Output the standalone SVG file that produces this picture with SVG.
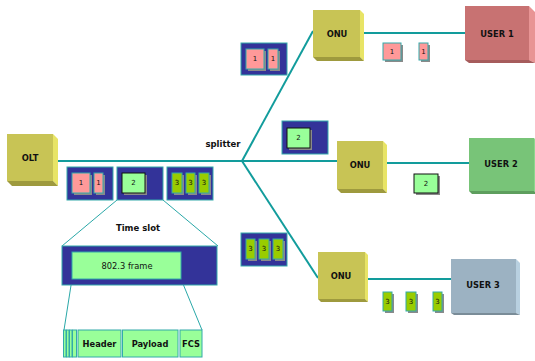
<svg xmlns="http://www.w3.org/2000/svg" width="535" height="361" viewBox="0 0 535 361">
<style>
.t{font-family:"DejaVu Sans",Verdana,sans-serif;font-weight:bold;font-size:8.3px;fill:#111;text-anchor:middle;dominant-baseline:central}
.n{font-family:"DejaVu Sans",Verdana,sans-serif;font-size:7px;fill:#111;text-anchor:middle;dominant-baseline:central}
.r{font-family:"DejaVu Sans",Verdana,sans-serif;font-size:8.3px;fill:#111;text-anchor:middle;dominant-baseline:central}
.ln{stroke:#129c9c;stroke-width:2;fill:none}
.th{stroke:#2aa8a8;stroke-width:1;fill:none}
.grp{fill:#333399;stroke:#33aaaa;stroke-width:1}
.pk{fill:#ff9999;stroke:#33aaaa;stroke-width:1}
.gr{fill:#99ff99;stroke:#111;stroke-width:1}
.yg{fill:#99cc00;stroke:#33aaaa;stroke-width:1}
.sh{fill:#8a8a8a}
.fd{fill:#99ff99;stroke:#33aaaa;stroke-width:1}
.yf{fill:#c8c455}.ys{fill:#e8e466}.yb{fill:#9e9a3e}
</style>
<g id="connectors">
<line class="ln" x1="58" y1="161" x2="337" y2="161"/>
<line class="ln" x1="242" y1="161" x2="313" y2="31"/>
<line class="ln" x1="242" y1="161" x2="318" y2="278"/>
<line class="ln" x1="364" y1="33" x2="465" y2="33"/>
<line class="ln" x1="387" y1="163" x2="469" y2="163"/>
<line class="ln" x1="368" y1="279" x2="451" y2="279"/>
<line class="th" x1="117" y1="200" x2="62" y2="246"/>
<line class="th" x1="163" y1="200" x2="218" y2="246"/>
<line class="th" x1="72" y1="279" x2="64" y2="330"/>
<line class="th" x1="181" y1="279" x2="202" y2="330"/>
</g>
<g id="olt">
<polygon class="ys" points="53,134 58,139 58,186 53,181"/>
<polygon class="yb" points="7,181 53,181 58,186 12,186"/>
<rect class="yf" x="7" y="134" width="46" height="47"/>
<text class="t" x="30" y="158">OLT</text>
</g>
<g id="onu1">
<polygon class="ys" points="360,10 364,14 364,61 360,57"/>
<polygon class="yb" points="313,57 360,57 364,61 317,61"/>
<rect class="yf" x="313" y="10" width="47" height="47"/>
<text class="t" x="337" y="34">ONU</text>
</g>
<g id="onu2">
<polygon class="ys" points="383,141 387,145 387,193 383,189"/>
<polygon class="yb" points="337,189 383,189 387,193 341,193"/>
<rect class="yf" x="337" y="141" width="46" height="48"/>
<text class="t" x="360" y="165">ONU</text>
</g>
<g id="onu3">
<polygon class="ys" points="365,252 368,255 368,302 365,299"/>
<polygon class="yb" points="318,299 365,299 368,302 321,302"/>
<rect class="yf" x="318" y="252" width="47" height="47"/>
<text class="t" x="341" y="276">ONU</text>
</g>
<g id="user1">
<polygon fill="#e89494" points="529,6 535,12 535,63 529,60"/>
<polygon fill="#a65c5c" points="465,60 529,60 535,63 469,63"/>
<rect fill="#c87272" x="465" y="6" width="64" height="54"/>
<text class="t" x="497" y="34">USER 1</text>
</g>
<g id="user2">
<polygon fill="#8ed68e" points="534,138 538,142 538,194 534,191"/>
<polygon fill="#5e9e5e" points="469,191 534,191 538,194 472,194"/>
<rect fill="#78c478" x="469" y="138" width="65" height="53"/>
<text class="t" x="501" y="164">USER 2</text>
</g>
<g id="user3">
<polygon fill="#b8d0e0" points="516,259 520,263 520,315 516,313"/>
<polygon fill="#7a8c98" points="451,313 516,313 520,315 454,315"/>
<rect fill="#9cb2c2" x="451" y="259" width="65" height="54"/>
<text class="t" x="483" y="285">USER 3</text>
</g>
<g id="splitter">
<text class="t" x="223" y="144" style="font-size:8.5px">splitter</text>
</g>
<g id="olt-slot1">
<rect class="grp" x="67" y="167" width="46" height="33"/>
<rect class="sh" x="74" y="175" width="18" height="20"/>
<rect class="pk" x="72" y="173" width="18" height="20"/>
<text class="n" x="81" y="183">1</text>
<rect class="sh" x="96" y="175" width="9" height="20"/>
<rect class="pk" x="94" y="173" width="9" height="20"/>
<text class="n" x="98.5" y="183">1</text>
</g>
<g id="olt-slot2">
<rect class="grp" x="117" y="167" width="46" height="33"/>
<rect class="sh" x="124" y="175" width="23" height="20"/>
<rect class="gr" x="122" y="173" width="23" height="20"/>
<text class="n" x="133.5" y="183">2</text>
</g>
<g id="olt-slot3">
<rect class="grp" x="167" y="167" width="46" height="33"/>
<rect class="sh" x="174" y="175" width="10" height="20"/>
<rect class="yg" x="172" y="173" width="10" height="20"/>
<text class="n" x="177" y="183">3</text>
<rect class="sh" x="188" y="175" width="9" height="20"/>
<rect class="yg" x="186" y="173" width="9" height="20"/>
<text class="n" x="190.5" y="183">3</text>
<rect class="sh" x="201" y="175" width="10" height="20"/>
<rect class="yg" x="199" y="173" width="10" height="20"/>
<text class="n" x="204" y="183">3</text>
</g>
<g id="branch1-packets">
<rect class="grp" x="241" y="43" width="46" height="32"/>
<rect class="sh" x="248" y="51" width="18" height="20"/>
<rect class="pk" x="246" y="49" width="18" height="20"/>
<text class="n" x="255" y="59">1</text>
<rect class="sh" x="270" y="51" width="10" height="20"/>
<rect class="pk" x="268" y="49" width="10" height="20"/>
<text class="n" x="273" y="59">1</text>
</g>
<g id="branch2-packets">
<rect class="grp" x="282" y="121" width="46" height="33"/>
<rect class="sh" x="289" y="130" width="23" height="20"/>
<rect class="gr" x="287" y="128" width="23" height="20"/>
<text class="n" x="298.5" y="138">2</text>
</g>
<g id="branch3-packets">
<rect class="grp" x="241" y="233" width="46" height="33"/>
<rect class="sh" x="248" y="241" width="9" height="20"/>
<rect class="yg" x="246" y="239" width="9" height="20"/>
<text class="n" x="250.5" y="249">3</text>
<rect class="sh" x="261" y="241" width="10" height="20"/>
<rect class="yg" x="259" y="239" width="10" height="20"/>
<text class="n" x="264" y="249">3</text>
<rect class="sh" x="275" y="241" width="10" height="20"/>
<rect class="yg" x="273" y="239" width="10" height="20"/>
<text class="n" x="278" y="249">3</text>
</g>
<g id="user1-packets">
<rect class="sh" x="385" y="45" width="18" height="17"/>
<rect class="pk" x="383" y="43" width="18" height="17"/>
<text class="n" x="392" y="51.5">1</text>
<rect class="sh" x="421" y="45" width="9" height="17"/>
<rect class="pk" x="419" y="43" width="9" height="17"/>
<text class="n" x="423.5" y="51.5">1</text>
</g>
<g id="user2-packets">
<rect class="sh" x="416" y="176" width="24" height="19"/>
<rect class="gr" x="414" y="174" width="24" height="19"/>
<text class="n" x="426" y="183.5">2</text>
</g>
<g id="user3-packets">
<rect class="sh" x="385" y="294" width="9" height="19"/>
<rect class="yg" x="383" y="292" width="9" height="19"/>
<text class="n" x="387.5" y="301.5">3</text>
<rect class="sh" x="408" y="294" width="10" height="19"/>
<rect class="yg" x="406" y="292" width="10" height="19"/>
<text class="n" x="411" y="301.5">3</text>
<rect class="sh" x="435" y="294" width="9" height="19"/>
<rect class="yg" x="433" y="292" width="9" height="19"/>
<text class="n" x="437.5" y="301.5">3</text>
</g>
<g id="timeslot">
<text class="t" x="138" y="228" style="font-size:8.5px">Time slot</text>
<rect class="grp" x="62" y="246" width="155" height="39"/>
<rect class="fd" x="72" y="252" width="109" height="27"/>
<text class="r" x="127" y="265.5">802.3 frame</text>
</g>
<g id="frame-fields">
<rect class="fd" x="63.5" y="330" width="2.5" height="27"/>
<rect class="fd" x="66.5" y="330" width="2.5" height="27"/>
<rect class="fd" x="69.5" y="330" width="2.5" height="27"/>
<rect class="fd" x="72.5" y="330" width="4" height="27"/>
<rect class="fd" x="78" y="330" width="43" height="27"/>
<text class="t" x="99.5" y="344">Header</text>
<rect class="fd" x="122.5" y="330" width="55.5" height="27"/>
<text class="t" x="150" y="344">Payload</text>
<rect class="fd" x="180" y="330" width="22" height="27"/>
<text class="t" x="191" y="344">FCS</text>
</g>
</svg>
